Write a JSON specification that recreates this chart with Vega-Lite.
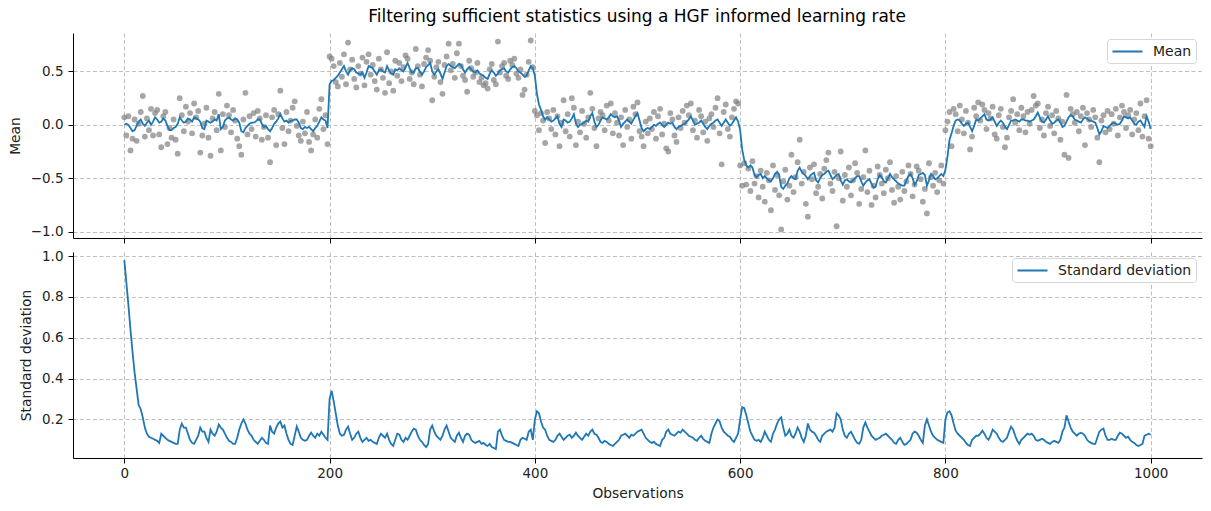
{
  "$schema": "https://vega.github.io/schema/vega-lite/v6.json",
  "padding": {"left": 8, "top": 8, "right": 5, "bottom": 5},
  "title": {"text": "Filtering sufficient statistics using a HGF informed learning rate", "fontSize": 17, "fontWeight": "normal", "font": "DejaVu Sans", "color": "#000000", "anchor": "middle", "offset": 7, "dx": 32},
  "data": {"values": [
{"t":0,"y":0.07,"m":0,"s":0.98},{"t":2,"y":-0.1,"m":0.01,"s":0.87},{"t":4,"y":0.08,"m":0,"s":0.76},{"t":6,"y":-0.24,"m":-0.03,"s":0.64},{"t":8,"y":-0.13,"m":-0.06,"s":0.53},{"t":10,"y":0.05,"m":-0.05,"s":0.43},{"t":12,"y":-0.15,"m":-0.01,"s":0.35},{"t":14,"y":0.01,"m":0.03,"s":0.27},{"t":16,"y":0.12,"m":0.05,"s":0.25},{"t":18,"y":0.27,"m":0.01,"s":0.21},
{"t":20,"y":-0.11,"m":-0.01,"s":0.16},{"t":22,"y":0.06,"m":0.02,"s":0.13},{"t":24,"y":-0.05,"m":0.04,"s":0.115},{"t":26,"y":0.15,"m":0,"s":0.11},{"t":28,"y":-0.1,"m":0.03,"s":0.105},{"t":30,"y":0.11,"m":0.07,"s":0.1},{"t":32,"y":0.14,"m":0.05,"s":0.095},{"t":34,"y":-0.09,"m":0.02,"s":0.085},{"t":36,"y":-0.21,"m":0.03,"s":0.13},{"t":38,"y":0.08,"m":0.06,"s":0.12},
{"t":40,"y":0.12,"m":0.04,"s":0.11},{"t":42,"y":-0.18,"m":-0.01,"s":0.1},{"t":44,"y":-0.03,"m":-0.05,"s":0.095},{"t":46,"y":-0.12,"m":-0.05,"s":0.09},{"t":48,"y":0.05,"m":-0.03,"s":0.085},{"t":50,"y":-0.14,"m":-0.02,"s":0.08},{"t":52,"y":-0.27,"m":0.01,"s":0.08},{"t":54,"y":0.25,"m":0.07,"s":0.15},{"t":56,"y":0.09,"m":0.04,"s":0.18},{"t":58,"y":-0.06,"m":0.02,"s":0.16},
{"t":60,"y":0.17,"m":0.03,"s":0.16},{"t":62,"y":0.03,"m":0.06,"s":0.13},{"t":64,"y":0.11,"m":0.05,"s":0.1},{"t":66,"y":-0.08,"m":0.03,"s":0.085},{"t":68,"y":0.2,"m":0.07,"s":0.08},{"t":70,"y":0.07,"m":0.06,"s":0.1},{"t":72,"y":0.13,"m":0.05,"s":0.12},{"t":74,"y":-0.26,"m":0.03,"s":0.16},{"t":76,"y":-0.1,"m":-0.03,"s":0.14},{"t":78,"y":0.01,"m":-0.04,"s":0.14},
{"t":80,"y":0.16,"m":0.04,"s":0.11},{"t":82,"y":-0.12,"m":0.03,"s":0.09},{"t":84,"y":-0.29,"m":0.02,"s":0.15},{"t":86,"y":0.06,"m":0.03,"s":0.13},{"t":88,"y":0.12,"m":0.05,"s":0.12},{"t":90,"y":-0.05,"m":0.04,"s":0.14},{"t":92,"y":0.29,"m":0.1,"s":0.175},{"t":94,"y":-0.24,"m":-0.04,"s":0.16},{"t":96,"y":0.1,"m":-0.02,"s":0.15},{"t":98,"y":-0.02,"m":0.04,"s":0.13},
{"t":100,"y":0.18,"m":0.06,"s":0.11},{"t":102,"y":0.09,"m":0.07,"s":0.095},{"t":104,"y":-0.07,"m":0.05,"s":0.09},{"t":106,"y":0.14,"m":0.04,"s":0.08},{"t":108,"y":0.04,"m":0.06,"s":0.08},{"t":110,"y":-0.13,"m":0.05,"s":0.11},{"t":112,"y":-0.2,"m":0.02,"s":0.15},{"t":114,"y":-0.28,"m":-0.06,"s":0.18},{"t":116,"y":0.05,"m":-0.07,"s":0.2},{"t":118,"y":0.3,"m":-0.03,"s":0.18},
{"t":120,"y":-0.09,"m":-0.01,"s":0.15},{"t":122,"y":0.08,"m":0.01,"s":0.13},{"t":124,"y":-0.04,"m":0.02,"s":0.12},{"t":126,"y":0.11,"m":0.02,"s":0.1},{"t":128,"y":-0.11,"m":0.03,"s":0.09},{"t":130,"y":0.13,"m":0.05,"s":0.08},{"t":132,"y":0.06,"m":0.05,"s":0.095},{"t":134,"y":-0.14,"m":0.01,"s":0.11},{"t":136,"y":-0.02,"m":-0.02,"s":0.1},{"t":138,"y":0.09,"m":-0.01,"s":0.085},
{"t":140,"y":-0.12,"m":-0.04,"s":0.08},{"t":142,"y":-0.35,"m":-0.06,"s":0.17},{"t":144,"y":0.07,"m":-0.03,"s":0.14},{"t":146,"y":0.14,"m":0.01,"s":0.13},{"t":148,"y":-0.19,"m":0.03,"s":0.16},{"t":150,"y":0.1,"m":0.06,"s":0.18},{"t":152,"y":0.32,"m":0.1,"s":0.19},{"t":154,"y":-0.03,"m":0.06,"s":0.16},{"t":156,"y":-0.18,"m":0.03,"s":0.17},{"t":158,"y":0.12,"m":0.04,"s":0.13},
{"t":160,"y":-0.06,"m":0.02,"s":0.1},{"t":162,"y":0.04,"m":0.04,"s":0.08},{"t":164,"y":0.16,"m":0.04,"s":0.075},{"t":166,"y":0.22,"m":0.05,"s":0.12},{"t":168,"y":-0.01,"m":0.05,"s":0.165},{"t":170,"y":-0.1,"m":0.02,"s":0.14},{"t":172,"y":-0.15,"m":-0.03,"s":0.11},{"t":174,"y":0.03,"m":-0.04,"s":0.1},{"t":176,"y":-0.08,"m":-0.02,"s":0.095},{"t":178,"y":0.12,"m":-0.03,"s":0.1},
{"t":180,"y":-0.16,"m":-0.02,"s":0.12},{"t":182,"y":-0.24,"m":-0.04,"s":0.135},{"t":184,"y":-0.09,"m":-0.06,"s":0.12},{"t":186,"y":0.05,"m":-0.03,"s":0.11},{"t":188,"y":-0.12,"m":-0.01,"s":0.13},{"t":190,"y":0.15,"m":0.03,"s":0.12},{"t":192,"y":0.24,"m":0.07,"s":0.14},{"t":194,"y":-0.04,"m":0.05,"s":0.125},{"t":196,"y":0.09,"m":0.04,"s":0.11},{"t":198,"y":-0.18,"m":-0.03,"s":0.1},
{"t":200,"y":0.64,"m":0.38,"s":0.3},{"t":202,"y":0.62,"m":0.41,"s":0.34},{"t":204,"y":0.55,"m":0.42,"s":0.29},{"t":206,"y":0.4,"m":0.44,"s":0.23},{"t":208,"y":0.36,"m":0.46,"s":0.17},{"t":210,"y":0.58,"m":0.49,"s":0.13},{"t":212,"y":0.45,"m":0.52,"s":0.12},{"t":214,"y":0.66,"m":0.55,"s":0.125},{"t":216,"y":0.38,"m":0.5,"s":0.15},{"t":218,"y":0.77,"m":0.47,"s":0.165},
{"t":220,"y":0.52,"m":0.51,"s":0.13},{"t":222,"y":0.61,"m":0.53,"s":0.1},{"t":224,"y":0.43,"m":0.52,"s":0.11},{"t":226,"y":0.35,"m":0.49,"s":0.13},{"t":228,"y":0.55,"m":0.48,"s":0.14},{"t":230,"y":0.48,"m":0.47,"s":0.11},{"t":232,"y":0.63,"m":0.49,"s":0.09},{"t":234,"y":0.37,"m":0.44,"s":0.1},{"t":236,"y":0.59,"m":0.49,"s":0.11},{"t":238,"y":0.66,"m":0.55,"s":0.095},
{"t":240,"y":0.47,"m":0.54,"s":0.1},{"t":242,"y":0.56,"m":0.53,"s":0.09},{"t":244,"y":0.41,"m":0.5,"s":0.085},{"t":246,"y":0.33,"m":0.47,"s":0.08},{"t":248,"y":0.62,"m":0.51,"s":0.11},{"t":250,"y":0.52,"m":0.52,"s":0.13},{"t":252,"y":0.44,"m":0.5,"s":0.12},{"t":254,"y":0.3,"m":0.49,"s":0.11},{"t":256,"y":0.68,"m":0.55,"s":0.13},{"t":258,"y":0.39,"m":0.51,"s":0.1},
{"t":260,"y":0.5,"m":0.48,"s":0.08},{"t":262,"y":0.32,"m":0.47,"s":0.07},{"t":264,"y":0.6,"m":0.52,"s":0.1},{"t":266,"y":0.46,"m":0.51,"s":0.13},{"t":268,"y":0.58,"m":0.53,"s":0.125},{"t":270,"y":0.41,"m":0.51,"s":0.1},{"t":272,"y":0.54,"m":0.5,"s":0.09},{"t":274,"y":0.65,"m":0.54,"s":0.11},{"t":276,"y":0.62,"m":0.58,"s":0.1},{"t":278,"y":0.43,"m":0.53,"s":0.12},
{"t":280,"y":0.49,"m":0.49,"s":0.14},{"t":282,"y":0.38,"m":0.49,"s":0.155},{"t":284,"y":0.71,"m":0.53,"s":0.15},{"t":286,"y":0.55,"m":0.53,"s":0.12},{"t":288,"y":0.47,"m":0.5,"s":0.1},{"t":290,"y":0.36,"m":0.47,"s":0.09},{"t":292,"y":0.57,"m":0.5,"s":0.075},{"t":294,"y":0.63,"m":0.54,"s":0.065},{"t":296,"y":0.7,"m":0.56,"s":0.08},{"t":298,"y":0.6,"m":0.58,"s":0.15},
{"t":300,"y":0.23,"m":0.5,"s":0.17},{"t":302,"y":0.45,"m":0.47,"s":0.14},{"t":304,"y":0.54,"m":0.5,"s":0.12},{"t":306,"y":0.59,"m":0.52,"s":0.11},{"t":308,"y":0.4,"m":0.48,"s":0.1},{"t":310,"y":0.29,"m":0.43,"s":0.12},{"t":312,"y":0.56,"m":0.49,"s":0.15},{"t":314,"y":0.64,"m":0.55,"s":0.17},{"t":316,"y":0.76,"m":0.57,"s":0.14},{"t":318,"y":0.51,"m":0.55,"s":0.11},
{"t":320,"y":0.57,"m":0.54,"s":0.1},{"t":322,"y":0.44,"m":0.53,"s":0.09},{"t":324,"y":0.67,"m":0.55,"s":0.12},{"t":326,"y":0.76,"m":0.57,"s":0.135},{"t":328,"y":0.55,"m":0.56,"s":0.11},{"t":330,"y":0.46,"m":0.52,"s":0.09},{"t":332,"y":0.42,"m":0.49,"s":0.12},{"t":334,"y":0.31,"m":0.52,"s":0.13},{"t":336,"y":0.6,"m":0.54,"s":0.125},{"t":338,"y":0.53,"m":0.52,"s":0.1},
{"t":340,"y":0.45,"m":0.5,"s":0.09},{"t":342,"y":0.49,"m":0.49,"s":0.085},{"t":344,"y":0.58,"m":0.51,"s":0.09},{"t":346,"y":0.4,"m":0.48,"s":0.095},{"t":348,"y":0.44,"m":0.47,"s":0.08},{"t":350,"y":0.37,"m":0.46,"s":0.085},{"t":352,"y":0.39,"m":0.44,"s":0.075},{"t":354,"y":0.34,"m":0.43,"s":0.07},{"t":356,"y":0.52,"m":0.48,"s":0.08},{"t":358,"y":0.57,"m":0.51,"s":0.065},
{"t":360,"y":0.42,"m":0.49,"s":0.06},{"t":362,"y":0.38,"m":0.46,"s":0.055},{"t":364,"y":0.78,"m":0.48,"s":0.14},{"t":366,"y":0.49,"m":0.51,"s":0.15},{"t":368,"y":0.55,"m":0.52,"s":0.12},{"t":370,"y":0.58,"m":0.53,"s":0.1},{"t":372,"y":0.46,"m":0.5,"s":0.095},{"t":374,"y":0.43,"m":0.49,"s":0.09},{"t":376,"y":0.6,"m":0.52,"s":0.09},{"t":378,"y":0.56,"m":0.54,"s":0.085},
{"t":380,"y":0.62,"m":0.55,"s":0.08},{"t":382,"y":0.48,"m":0.53,"s":0.075},{"t":384,"y":0.44,"m":0.5,"s":0.07},{"t":386,"y":0.52,"m":0.49,"s":0.1},{"t":388,"y":0.28,"m":0.47,"s":0.11},{"t":390,"y":0.33,"m":0.45,"s":0.105},{"t":392,"y":0.47,"m":0.46,"s":0.1},{"t":394,"y":0.59,"m":0.51,"s":0.14},{"t":396,"y":0.79,"m":0.55,"s":0.15},{"t":398,"y":0.54,"m":0.53,"s":0.1},
{"t":400,"y":0.13,"m":0.46,"s":0.2},{"t":402,"y":0.09,"m":0.29,"s":0.24},{"t":404,"y":-0.05,"m":0.19,"s":0.23},{"t":406,"y":0.11,"m":0.14,"s":0.19},{"t":408,"y":0.04,"m":0.08,"s":0.16},{"t":410,"y":-0.17,"m":0.05,"s":0.15},{"t":412,"y":0.12,"m":0.07,"s":0.12},{"t":414,"y":0.06,"m":0.05,"s":0.1},{"t":416,"y":-0.04,"m":0.03,"s":0.095},{"t":418,"y":0.14,"m":0.04,"s":0.09},
{"t":420,"y":-0.09,"m":0.06,"s":0.1},{"t":422,"y":0.08,"m":0.08,"s":0.12},{"t":424,"y":-0.2,"m":0.01,"s":0.13},{"t":426,"y":0.02,"m":-0.02,"s":0.115},{"t":428,"y":0.23,"m":0.05,"s":0.1},{"t":430,"y":-0.06,"m":0.04,"s":0.11},{"t":432,"y":0.1,"m":0.02,"s":0.12},{"t":434,"y":-0.11,"m":0.03,"s":0.125},{"t":436,"y":0.25,"m":0.06,"s":0.11},{"t":438,"y":0.16,"m":0.1,"s":0.12},
{"t":440,"y":-0.19,"m":0.01,"s":0.135},{"t":442,"y":0.03,"m":-0.02,"s":0.12},{"t":444,"y":-0.07,"m":0,"s":0.11},{"t":446,"y":0.13,"m":0.01,"s":0.1},{"t":448,"y":0.01,"m":0.02,"s":0.115},{"t":450,"y":-0.12,"m":0.04,"s":0.13},{"t":452,"y":0.07,"m":0.03,"s":0.12},{"t":454,"y":0.3,"m":0.08,"s":0.14},{"t":456,"y":0.15,"m":0.11,"s":0.15},{"t":458,"y":-0.03,"m":0.03,"s":0.13},
{"t":460,"y":-0.2,"m":-0.02,"s":0.125},{"t":462,"y":0.06,"m":0,"s":0.11},{"t":464,"y":0.12,"m":0.04,"s":0.09},{"t":466,"y":0.09,"m":0.07,"s":0.085},{"t":468,"y":-0.05,"m":0.06,"s":0.095},{"t":470,"y":0.18,"m":0.05,"s":0.09},{"t":472,"y":0.04,"m":0.07,"s":0.08},{"t":474,"y":0.2,"m":0.1,"s":0.075},{"t":476,"y":-0.08,"m":0.08,"s":0.07},{"t":478,"y":0.11,"m":0.07,"s":0.08},
{"t":480,"y":0.02,"m":0.08,"s":0.09},{"t":482,"y":-0.1,"m":0.04,"s":0.1},{"t":484,"y":0.07,"m":-0.02,"s":0.12},{"t":486,"y":-0.19,"m":0.01,"s":0.125},{"t":488,"y":0.14,"m":0.03,"s":0.13},{"t":490,"y":-0.02,"m":0.05,"s":0.12},{"t":492,"y":0.05,"m":0.03,"s":0.11},{"t":494,"y":-0.13,"m":0.01,"s":0.125},{"t":496,"y":0.17,"m":0.05,"s":0.12},{"t":498,"y":0.1,"m":0.08,"s":0.13},
{"t":500,"y":0.21,"m":0.11,"s":0.14},{"t":502,"y":-0.06,"m":0.04,"s":0.145},{"t":504,"y":-0.11,"m":-0.03,"s":0.15},{"t":506,"y":-0.2,"m":-0.06,"s":0.13},{"t":508,"y":0.03,"m":-0.04,"s":0.11},{"t":510,"y":-0.08,"m":-0.03,"s":0.1},{"t":512,"y":0.06,"m":-0.04,"s":0.09},{"t":514,"y":-0.04,"m":-0.02,"s":0.085},{"t":516,"y":0.12,"m":0,"s":0.09},{"t":518,"y":-0.13,"m":-0.01,"s":0.08},
{"t":520,"y":0.08,"m":0.01,"s":0.075},{"t":522,"y":0.15,"m":0.02,"s":0.07},{"t":524,"y":-0.09,"m":0,"s":0.1},{"t":526,"y":0.01,"m":-0.02,"s":0.11},{"t":528,"y":-0.22,"m":0,"s":0.14},{"t":530,"y":-0.25,"m":0.02,"s":0.15},{"t":532,"y":0.11,"m":0.01,"s":0.13},{"t":534,"y":0.05,"m":0.02,"s":0.125},{"t":536,"y":-0.1,"m":-0.02,"s":0.12},{"t":538,"y":-0.16,"m":-0.04,"s":0.13},
{"t":540,"y":0.07,"m":-0.02,"s":0.14},{"t":542,"y":-0.03,"m":-0.01,"s":0.135},{"t":544,"y":0.13,"m":0,"s":0.15},{"t":546,"y":0.02,"m":0.01,"s":0.14},{"t":548,"y":0.18,"m":0.03,"s":0.13},{"t":550,"y":0.09,"m":0.05,"s":0.12},{"t":552,"y":0.2,"m":0.08,"s":0.115},{"t":554,"y":-0.05,"m":0.04,"s":0.11},{"t":556,"y":0.04,"m":0,"s":0.1},{"t":558,"y":-0.12,"m":0.01,"s":0.095},
{"t":560,"y":0.14,"m":0.02,"s":0.11},{"t":562,"y":0.08,"m":0.04,"s":0.12},{"t":564,"y":-0.07,"m":0.01,"s":0.105},{"t":566,"y":0.03,"m":-0.02,"s":0.095},{"t":568,"y":-0.15,"m":-0.04,"s":0.09},{"t":570,"y":0.06,"m":-0.01,"s":0.085},{"t":572,"y":0.1,"m":0.01,"s":0.13},{"t":574,"y":-0.02,"m":0.02,"s":0.16},{"t":576,"y":0.16,"m":0.04,"s":0.18},{"t":578,"y":0.25,"m":0.05,"s":0.2},
{"t":580,"y":-0.08,"m":0.02,"s":0.19},{"t":582,"y":-0.37,"m":-0.01,"s":0.16},{"t":584,"y":0.12,"m":0.02,"s":0.14},{"t":586,"y":0.19,"m":0.05,"s":0.13},{"t":588,"y":-0.04,"m":0.02,"s":0.12},{"t":590,"y":-0.11,"m":-0.01,"s":0.115},{"t":592,"y":0.07,"m":0.01,"s":0.1},{"t":594,"y":0.15,"m":0.04,"s":0.09},{"t":596,"y":0.22,"m":0.07,"s":0.11},{"t":598,"y":0.2,"m":0.03,"s":0.13},
{"t":600,"y":-0.38,"m":-0.05,"s":0.2},{"t":602,"y":-0.57,"m":-0.23,"s":0.26},{"t":604,"y":-0.36,"m":-0.33,"s":0.255},{"t":606,"y":-0.56,"m":-0.38,"s":0.22},{"t":608,"y":-0.41,"m":-0.4,"s":0.18},{"t":610,"y":-0.62,"m":-0.38,"s":0.14},{"t":612,"y":-0.34,"m":-0.4,"s":0.12},{"t":614,"y":-0.55,"m":-0.47,"s":0.1},{"t":616,"y":-0.48,"m":-0.49,"s":0.095},{"t":618,"y":-0.68,"m":-0.47,"s":0.1},
{"t":620,"y":-0.43,"m":-0.46,"s":0.09},{"t":622,"y":-0.58,"m":-0.5,"s":0.11},{"t":624,"y":-0.72,"m":-0.48,"s":0.14},{"t":626,"y":-0.45,"m":-0.5,"s":0.12},{"t":628,"y":-0.52,"m":-0.52,"s":0.1},{"t":630,"y":-0.8,"m":-0.53,"s":0.09},{"t":632,"y":-0.38,"m":-0.5,"s":0.13},{"t":634,"y":-0.61,"m":-0.46,"s":0.15},{"t":636,"y":-0.47,"m":-0.44,"s":0.18},{"t":638,"y":-0.66,"m":-0.47,"s":0.2},
{"t":640,"y":-0.98,"m":-0.58,"s":0.21},{"t":642,"y":-0.53,"m":-0.6,"s":0.16},{"t":644,"y":-0.42,"m":-0.57,"s":0.12},{"t":646,"y":-0.7,"m":-0.55,"s":0.13},{"t":648,"y":-0.57,"m":-0.5,"s":0.15},{"t":650,"y":-0.28,"m":-0.48,"s":0.12},{"t":652,"y":-0.63,"m":-0.5,"s":0.11},{"t":654,"y":-0.49,"m":-0.51,"s":0.13},{"t":656,"y":-0.35,"m":-0.43,"s":0.16},{"t":658,"y":-0.14,"m":-0.4,"s":0.14},
{"t":660,"y":-0.55,"m":-0.44,"s":0.11},{"t":662,"y":-0.44,"m":-0.46,"s":0.09},{"t":664,"y":-0.74,"m":-0.48,"s":0.12},{"t":666,"y":-0.86,"m":-0.51,"s":0.18},{"t":668,"y":-0.4,"m":-0.48,"s":0.15},{"t":670,"y":-0.51,"m":-0.46,"s":0.14},{"t":672,"y":-0.37,"m":-0.45,"s":0.135},{"t":674,"y":-0.64,"m":-0.52,"s":0.12},{"t":676,"y":-0.58,"m":-0.54,"s":0.1},{"t":678,"y":-0.46,"m":-0.5,"s":0.09},
{"t":680,"y":-0.69,"m":-0.47,"s":0.12},{"t":682,"y":-0.41,"m":-0.46,"s":0.13},{"t":684,"y":-0.33,"m":-0.44,"s":0.14},{"t":686,"y":-0.26,"m":-0.43,"s":0.145},{"t":688,"y":-0.55,"m":-0.47,"s":0.15},{"t":690,"y":-0.62,"m":-0.51,"s":0.14},{"t":692,"y":-0.44,"m":-0.49,"s":0.16},{"t":694,"y":-0.95,"m":-0.47,"s":0.23},{"t":696,"y":-0.5,"m":-0.46,"s":0.22},{"t":698,"y":-0.25,"m":-0.52,"s":0.2},
{"t":700,"y":-0.71,"m":-0.56,"s":0.15},{"t":702,"y":-0.47,"m":-0.52,"s":0.12},{"t":704,"y":-0.58,"m":-0.51,"s":0.11},{"t":706,"y":-0.4,"m":-0.53,"s":0.13},{"t":708,"y":-0.66,"m":-0.54,"s":0.14},{"t":710,"y":-0.52,"m":-0.52,"s":0.12},{"t":712,"y":-0.36,"m":-0.5,"s":0.1},{"t":714,"y":-0.45,"m":-0.48,"s":0.085},{"t":716,"y":-0.74,"m":-0.48,"s":0.08},{"t":718,"y":-0.6,"m":-0.53,"s":0.1},
{"t":720,"y":-0.49,"m":-0.57,"s":0.16},{"t":722,"y":-0.24,"m":-0.54,"s":0.185},{"t":724,"y":-0.63,"m":-0.52,"s":0.16},{"t":726,"y":-0.43,"m":-0.51,"s":0.14},{"t":728,"y":-0.75,"m":-0.55,"s":0.12},{"t":730,"y":-0.57,"m":-0.59,"s":0.11},{"t":732,"y":-0.68,"m":-0.58,"s":0.1},{"t":734,"y":-0.39,"m":-0.51,"s":0.105},{"t":736,"y":-0.47,"m":-0.47,"s":0.11},{"t":738,"y":-0.55,"m":-0.49,"s":0.12},
{"t":740,"y":-0.64,"m":-0.53,"s":0.125},{"t":742,"y":-0.42,"m":-0.54,"s":0.13},{"t":744,"y":-0.5,"m":-0.5,"s":0.12},{"t":746,"y":-0.35,"m":-0.46,"s":0.11},{"t":748,"y":-0.61,"m":-0.49,"s":0.1},{"t":750,"y":-0.73,"m":-0.51,"s":0.085},{"t":752,"y":-0.48,"m":-0.53,"s":0.08},{"t":754,"y":-0.58,"m":-0.55,"s":0.1},{"t":756,"y":-0.7,"m":-0.56,"s":0.11},{"t":758,"y":-0.44,"m":-0.57,"s":0.09},
{"t":760,"y":-0.62,"m":-0.57,"s":0.075},{"t":762,"y":-0.53,"m":-0.52,"s":0.08},{"t":764,"y":-0.38,"m":-0.48,"s":0.09},{"t":766,"y":-0.46,"m":-0.46,"s":0.1},{"t":768,"y":-0.67,"m":-0.5,"s":0.13},{"t":770,"y":-0.56,"m":-0.56,"s":0.14},{"t":772,"y":-0.39,"m":-0.53,"s":0.135},{"t":774,"y":-0.43,"m":-0.47,"s":0.12},{"t":776,"y":-0.51,"m":-0.46,"s":0.1},{"t":778,"y":-0.72,"m":-0.45,"s":0.085},
{"t":780,"y":-0.6,"m":-0.47,"s":0.17},{"t":782,"y":-0.83,"m":-0.57,"s":0.2},{"t":784,"y":-0.36,"m":-0.52,"s":0.17},{"t":786,"y":-0.49,"m":-0.46,"s":0.14},{"t":788,"y":-0.57,"m":-0.48,"s":0.12},{"t":790,"y":-0.45,"m":-0.51,"s":0.11},{"t":792,"y":-0.63,"m":-0.5,"s":0.1},{"t":794,"y":-0.52,"m":-0.48,"s":0.095},{"t":796,"y":-0.38,"m":-0.46,"s":0.09},{"t":798,"y":-0.55,"m":-0.48,"s":0.085},
{"t":800,"y":-0.05,"m":-0.42,"s":0.2},{"t":802,"y":0.03,"m":-0.3,"s":0.235},{"t":804,"y":0.12,"m":-0.14,"s":0.24},{"t":806,"y":-0.2,"m":-0.08,"s":0.22},{"t":808,"y":0.15,"m":-0.01,"s":0.18},{"t":810,"y":0.1,"m":0.04,"s":0.145},{"t":812,"y":-0.06,"m":0.05,"s":0.13},{"t":814,"y":0.18,"m":0.04,"s":0.12},{"t":816,"y":0.05,"m":0.01,"s":0.11},{"t":818,"y":-0.08,"m":-0.01,"s":0.1},
{"t":820,"y":0.13,"m":0.01,"s":0.085},{"t":822,"y":0.02,"m":0.02,"s":0.075},{"t":824,"y":-0.23,"m":-0.02,"s":0.07},{"t":826,"y":-0.11,"m":-0.06,"s":0.1},{"t":828,"y":0.16,"m":-0.01,"s":0.11},{"t":830,"y":0.08,"m":0.05,"s":0.12},{"t":832,"y":0.21,"m":0.04,"s":0.12},{"t":834,"y":0.04,"m":0.06,"s":0.13},{"t":836,"y":0.19,"m":0.08,"s":0.145},{"t":838,"y":0.14,"m":0.1,"s":0.13},
{"t":840,"y":-0.04,"m":0.05,"s":0.11},{"t":842,"y":0.11,"m":0.04,"s":0.1},{"t":844,"y":0.06,"m":0.05,"s":0.12},{"t":846,"y":0.17,"m":0.07,"s":0.15},{"t":848,"y":-0.09,"m":0.03,"s":0.14},{"t":850,"y":-0.13,"m":-0.01,"s":0.13},{"t":852,"y":0.09,"m":0.02,"s":0.11},{"t":854,"y":0.15,"m":0.04,"s":0.095},{"t":856,"y":-0.02,"m":0.02,"s":0.09},{"t":858,"y":-0.21,"m":-0.02,"s":0.1},
{"t":860,"y":-0.12,"m":-0.04,"s":0.11},{"t":862,"y":0.07,"m":0,"s":0.14},{"t":864,"y":0.13,"m":0.04,"s":0.165},{"t":866,"y":0.24,"m":0.04,"s":0.15},{"t":868,"y":0.02,"m":0.05,"s":0.12},{"t":870,"y":0.1,"m":0.04,"s":0.095},{"t":872,"y":-0.05,"m":0.03,"s":0.08},{"t":874,"y":0.16,"m":0.05,"s":0.1},{"t":876,"y":0.08,"m":0.05,"s":0.11},{"t":878,"y":-0.07,"m":0.04,"s":0.12},
{"t":880,"y":0.12,"m":0.04,"s":0.13},{"t":882,"y":0.01,"m":0.03,"s":0.125},{"t":884,"y":0.14,"m":0.04,"s":0.13},{"t":886,"y":0.27,"m":0.05,"s":0.12},{"t":888,"y":0.18,"m":0.08,"s":0.1},{"t":890,"y":0.2,"m":0.115,"s":0.095},{"t":892,"y":-0.03,"m":0.07,"s":0.1},{"t":894,"y":0.05,"m":0.03,"s":0.105},{"t":896,"y":-0.1,"m":0.02,"s":0.1},{"t":898,"y":0.11,"m":0.05,"s":0.09},
{"t":900,"y":0.17,"m":0.08,"s":0.085},{"t":902,"y":-0.01,"m":0.04,"s":0.08},{"t":904,"y":0.09,"m":0.01,"s":0.09},{"t":906,"y":-0.08,"m":0.02,"s":0.095},{"t":908,"y":0.13,"m":0.04,"s":0.09},{"t":910,"y":0.06,"m":0.05,"s":0.085},{"t":912,"y":-0.14,"m":0.02,"s":0.1},{"t":914,"y":0.03,"m":-0.02,"s":0.14},{"t":916,"y":-0.28,"m":-0.01,"s":0.16},{"t":918,"y":0.28,"m":0.03,"s":0.22},
{"t":920,"y":-0.31,"m":0.07,"s":0.19},{"t":922,"y":0.15,"m":0.09,"s":0.16},{"t":924,"y":0.1,"m":0.08,"s":0.14},{"t":926,"y":0.02,"m":0.05,"s":0.13},{"t":928,"y":0.12,"m":0.04,"s":0.12},{"t":930,"y":-0.06,"m":0.03,"s":0.13},{"t":932,"y":0.08,"m":0.02,"s":0.135},{"t":934,"y":0.16,"m":0.05,"s":0.13},{"t":936,"y":-0.19,"m":0.07,"s":0.12},{"t":938,"y":0.11,"m":0.06,"s":0.1},
{"t":940,"y":0.05,"m":0.04,"s":0.09},{"t":942,"y":-0.02,"m":0.04,"s":0.085},{"t":944,"y":0.14,"m":0.03,"s":0.08},{"t":946,"y":0.07,"m":0.02,"s":0.08},{"t":948,"y":-0.12,"m":-0.03,"s":0.11},{"t":950,"y":-0.35,"m":-0.09,"s":0.14},{"t":952,"y":0.04,"m":-0.06,"s":0.15},{"t":954,"y":0.09,"m":-0.01,"s":0.155},{"t":956,"y":-0.07,"m":-0.02,"s":0.12},{"t":958,"y":0.13,"m":-0.03,"s":0.1},
{"t":960,"y":-0.04,"m":-0.01,"s":0.1},{"t":962,"y":0.1,"m":0.01,"s":0.105},{"t":964,"y":0.01,"m":0.02,"s":0.1},{"t":966,"y":0.15,"m":0.01,"s":0.1},{"t":968,"y":-0.1,"m":0,"s":0.12},{"t":970,"y":0.07,"m":0.01,"s":0.135},{"t":972,"y":0.18,"m":0.04,"s":0.13},{"t":974,"y":0.12,"m":0.08,"s":0.12},{"t":976,"y":-0.03,"m":0.07,"s":0.11},{"t":978,"y":0.09,"m":0.06,"s":0.115},
{"t":980,"y":0.14,"m":0.07,"s":0.1},{"t":982,"y":-0.09,"m":0.04,"s":0.09},{"t":984,"y":0.05,"m":0.01,"s":0.085},{"t":986,"y":0.11,"m":0,"s":0.075},{"t":988,"y":-0.05,"m":0.03,"s":0.07},{"t":990,"y":0.2,"m":0.04,"s":0.075},{"t":992,"y":-0.11,"m":0.01,"s":0.08},{"t":994,"y":0.08,"m":-0.02,"s":0.12},{"t":996,"y":0.23,"m":0.08,"s":0.125},{"t":998,"y":-0.13,"m":0.03,"s":0.13},
{"t":1000,"y":-0.2,"m":-0.04,"s":0.125}
  ]},
  "spacing": 14,
  "bounds": "flush",
  "resolve": {"scale": {"color": "independent"}, "legend": {"color": "independent"}},
  "vconcat": [
    {
      "width": 1129,
      "height": 205,
      "layer": [
        {
          "mark": {"type": "circle", "size": 34, "color": "#808080", "opacity": 0.7},
          "encoding": {
            "x": {"field": "t", "type": "quantitative", "scale": {"domain": [-50, 1050], "nice": false, "zero": false}, "axis": {"values": [0, 200, 400, 600, 800, 1000], "labels": false, "title": null}},
            "y": {"field": "y", "type": "quantitative", "scale": {"domain": [-1.06, 0.86], "nice": false, "zero": false}, "axis": {"values": [-1, -0.5, 0, 0.5], "format": ".1f", "title": "Mean", "titlePadding": 8}}
          }
        },
        {
          "mark": {"type": "line", "strokeWidth": 1.8},
          "encoding": {
            "x": {"field": "t", "type": "quantitative"},
            "y": {"field": "m", "type": "quantitative"},
            "color": {"datum": "Mean", "type": "nominal", "scale": {"range": ["#1f77b4"]}}
          }
        }
      ]
    },
    {
      "width": 1129,
      "height": 206,
      "mark": {"type": "line", "strokeWidth": 1.8},
      "encoding": {
        "x": {"field": "t", "type": "quantitative", "scale": {"domain": [-50, 1050], "nice": false, "zero": false}, "axis": {"values": [0, 200, 400, 600, 800, 1000], "format": "d", "title": "Observations", "titlePadding": 7, "labelPadding": 3}},
        "y": {"field": "s", "type": "quantitative", "scale": {"domain": [0.011, 1.02], "nice": false, "zero": false}, "axis": {"values": [0.2, 0.4, 0.6, 0.8, 1.0], "format": ".1f", "title": "Standard deviation", "titlePadding": 8}},
        "color": {"datum": "Standard deviation", "type": "nominal", "scale": {"range": ["#1f77b4"]}}
      }
    }
  ],
  "config": {
    "font": "DejaVu Sans",
    "view": {"stroke": null},
    "axis": {
      "domainColor": "#000000",
      "domainWidth": 1,
      "tickColor": "#000000",
      "tickSize": 5,
      "tickWidth": 1,
      "labelFont": "DejaVu Sans",
      "labelFontSize": 13.5,
      "labelColor": "#222222",
      "labelPadding": 5,
      "titleFont": "DejaVu Sans",
      "titleFontSize": 13.8,
      "titleFontWeight": "normal",
      "titleColor": "#222222",
      "grid": true,
      "gridColor": "#b0b0b0",
      "gridDash": [4, 2.5],
      "gridWidth": 0.8
    },
    "legend": {
      "orient": "top-right",
      "offset": 6,
      "title": null,
      "fillColor": "#ffffff",
      "strokeColor": "#d5d5d5",
      "cornerRadius": 3,
      "padding": 4,
      "labelFont": "DejaVu Sans",
      "labelFontSize": 14,
      "labelColor": "#222222",
      "symbolType": "M-2,0H2",
      "symbolStrokeWidth": 2,
      "symbolSize": 225,
      "symbolOffset": 8,
      "labelOffset": 17
    }
  }
}
